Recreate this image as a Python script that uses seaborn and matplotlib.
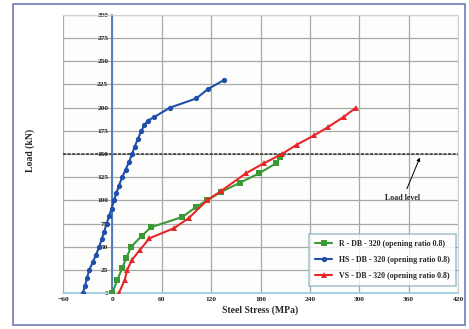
import matplotlib
matplotlib.use("Agg")
import matplotlib.pyplot as plt
import seaborn as sns
import pandas as pd
from matplotlib.patches import Rectangle

# ---- data ----
r_stress = [0, 6, 12, 17, 23, 36, 47, 85, 102, 115, 132, 155, 178, 199, 204]
r_load   = [0, 14, 27, 38, 50, 62, 71, 82, 93, 100, 109, 119, 129, 140, 147]

hs_stress = [-36, -33, -31, -28, -24, -20, -16, -13, -10, -7, -4, -1, 2, 5, 8, 12,
             16, 20, 24, 27, 31, 35, 39, 43, 51, 70, 102, 116, 136]
hs_load   = [0, 8, 16, 25, 33, 41, 50, 58, 66, 75, 83, 91, 100, 108, 116, 125,
             133, 141, 150, 158, 166, 175, 181, 186, 190, 200, 210, 220, 230]

vs_stress = [8, 15, 18, 24, 33, 45, 75, 93, 115, 132, 162, 184, 206, 224, 245, 262, 281, 296]
vs_load   = [0, 14, 25, 36, 46, 59, 70, 81, 100, 110, 129, 140, 150, 160, 170, 179, 190, 200]

series_labels = ["R - DB - 320 (opening ratio 0.8)",
                 "HS - DB - 320 (opening ratio 0.8)",
                 "VS - DB - 320 (opening ratio 0.8)"]
x_ticks = [-60, 0, 60, 120, 180, 240, 300, 360, 420]
y_ticks = [0, 25, 50, 75, 100, 125, 150, 175, 200, 225, 250, 275, 300]
load_level = 150

sns.set_style("white")
plt.rcParams['font.family'] = ['Liberation Serif', 'DejaVu Serif']

fig = plt.figure(figsize=(4.69, 3.29), dpi=100)
fig.patch.set_facecolor("white")
# outer frame
fig.patches.append(Rectangle((13/469, 4/329), 452/469, 321/329, transform=fig.transFigure,
                             fill=False, edgecolor="#7f86b8", linewidth=1.3))
ax = fig.add_axes([63/469, 1-293/329, 395/469, 278/329])
ax.set_facecolor("#fdfdfb")

ax.set_xlim(-60, 420)
ax.set_ylim(0, 300)
ax.set_xticks(x_ticks)
ax.set_yticks(y_ticks)
ax.grid(True, color="#a8a8a8", linewidth=0.9)
ax.set_axisbelow(True)

# load level line
ax.axhline(load_level, color="#303030", linewidth=1.1, linestyle=(0, (2, 1)), zorder=1)

colors = ["#3a9a35", "#1f4fa8", "#e8262a"]
markers = ["s", "o", "^"]
data = [(r_stress, r_load), (hs_stress, hs_load), (vs_stress, vs_load)]
for (xs, ys), lab, c, m in zip(data, series_labels, colors, markers):
    df = pd.DataFrame({"stress": xs, "load": ys})
    sns.lineplot(data=df, x="stress", y="load", sort=False, ax=ax, color=c,
                 marker=m, markersize=3.8, markeredgewidth=0, linewidth=1.5,
                 label=lab, zorder=3)

# spines
for s in ["top", "right"]:
    ax.spines[s].set_color("#d0d0d0")
ax.spines["left"].set_position(("data", 0))
ax.spines["left"].set_color("#4a78b8")
ax.spines["left"].set_linewidth(1.3)
ax.spines["bottom"].set_color("#9ccfe0")
ax.spines["bottom"].set_linewidth(1.3)
ax.tick_params(axis="both", length=0, labelsize=5.3, pad=3)
for t in ax.get_xticklabels() + ax.get_yticklabels():
    t.set_fontweight("bold")
    t.set_color("#222222")

ax.set_xlabel("Steel Stress (MPa)", fontsize=7, fontweight="bold", labelpad=2)
ax.set_ylabel("")
fig.text(30/469, 1-150/329, "Load (kN)", rotation=90, fontsize=7, fontweight="bold",
         ha="center", va="center")

ax.annotate("Load level", xy=(375, 149), xytext=(353, 102), fontsize=5.8, fontweight="bold",
            ha="center", va="center",
            arrowprops=dict(arrowstyle="-|>", color="black", lw=0.7, mutation_scale=5))

leg = ax.legend(loc="lower right", bbox_to_anchor=(1.005, 0.01),
                prop={"weight": "bold", "size": 5.7}, frameon=True, fancybox=False,
                handlelength=2.2, labelspacing=1.0, borderpad=0.8)
leg.get_frame().set_edgecolor("#8ab0c8")
leg.get_frame().set_linewidth(1.1)

fig.savefig("out.png", dpi=100)
